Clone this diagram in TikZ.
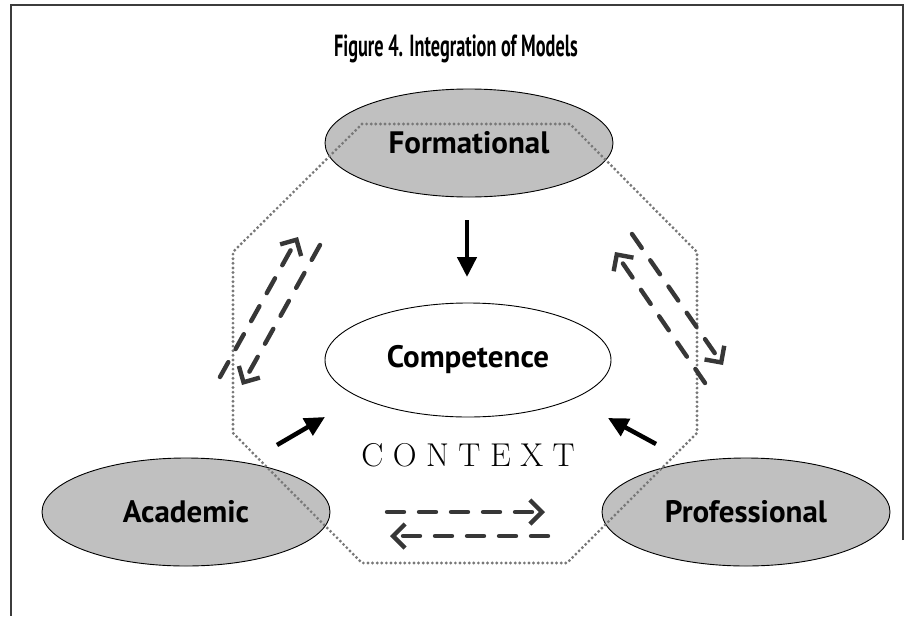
\documentclass[tikz,border=0pt]{standalone}
\usepackage{fontspec}
\setmainfont{PT Sans}
\newfontfamily\titlefont{PT Sans}[FakeStretch=0.6]
\newfontfamily\ctxfont{Latin Modern Roman}
\usetikzlibrary{shapes.geometric,arrows.meta}
\definecolor{ovalgray}{RGB}{192,192,192}
\definecolor{dashgray}{RGB}{55,55,55}
\definecolor{dotgray}{RGB}{120,120,120}
\definecolor{framegray}{RGB}{60,60,60}

\begin{document}
\begin{tikzpicture}[x=1pt,y=-1pt,
  model/.style={ellipse, draw=black, line width=0.9pt, fill=ovalgray,
    minimum width=288pt, minimum height=108pt, inner sep=0pt,
    font=\bfseries\fontsize{31}{36}\selectfont},
  core/.style={model, fill=white, minimum width=286pt, minimum height=114pt},
  influence/.style={line width=4.5pt, -{Triangle[length=20pt,width=19pt]}},
  exchange/.style={dashgray, line width=4.4pt, line cap=round,
    dash pattern=on 17pt off 15pt, -{Straight Barb[length=12pt,width=24pt]}},
  boundary/.style={dotgray, line width=3.2pt, line cap=round,
    dash pattern=on 0pt off 4.6pt, line join=round},
]
\useasboundingbox (0,0) rectangle (912,616);

% frame
\draw[framegray, line width=1.5pt] (903,540) -- (903,5) -- (11,5) -- (11,616);

% title
\node (title) at (456,49) {\titlefont\bfseries\fontsize{30.5}{36}\selectfont Figure 4. Integration of Models};

% models
\node[model] (form) at (469,143) {Formational};
\node[core]  (comp) at (468,360) {Competence};
\node[model] (acad) at (186,512) {Academic};
\node[model] (prof) at (746,512) {Professional};

% context boundary
\draw[boundary] (362,124) -- (570,124) -- (697,252) -- (697,433) -- (567,563)
  -- (362,563) -- (233,433) -- (233,252) -- cycle;

\node (ctx) at (468,455) {\ctxfont\fontsize{33}{40}\selectfont
  C\hskip9.5pt O\hskip9.5pt N\hskip9.5pt T\hskip9.5pt E\hskip9.5pt X\hskip9.5pt T};

% influence arrows
\coordinate (fa) at (467,220);
\coordinate (fb) at (467,277);
\coordinate (aa) at (277,445);
\coordinate (ab) at (325,417);
\coordinate (pa) at (656,444);
\coordinate (pb) at (608,418);
\draw[influence] (fa) -- (fb);
\draw[influence] (aa) -- (ab);
\draw[influence] (pa) -- (pb);

% exchanges between models
\coordinate (l1a) at (220,377);
\coordinate (l1b) at (298,237);
\coordinate (l2a) at (320,245);
\coordinate (l2b) at (242,385);
\draw[exchange] (l1a) -- (l1b);
\draw[exchange] (l2a) -- (l2b);

\coordinate (r1a) at (705,383);
\coordinate (r1b) at (615,252);
\coordinate (r2a) at (632,234);
\coordinate (r2b) at (723,365);
\draw[exchange] (r1a) -- (r1b);
\draw[exchange] (r2a) -- (r2b);

\coordinate (b1a) at (387,512);
\coordinate (b1b) at (545,512);
\coordinate (b2a) at (548,536);
\coordinate (b2b) at (390,536);
\draw[exchange] (b1a) -- (b1b);
\draw[exchange] (b2a) -- (b2b);
\end{tikzpicture}
\end{document}
